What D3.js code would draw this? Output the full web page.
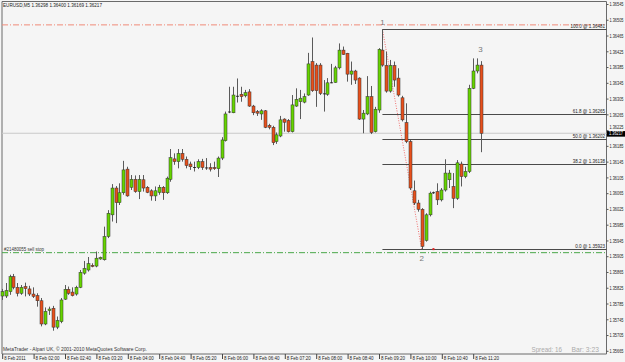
<!DOCTYPE html>
<html><head><meta charset="utf-8">
<script src="https://cdn.jsdelivr.net/npm/d3@7"></script>
<style>
html,body{margin:0;padding:0;background:#f5f5f5;}
svg{display:block;}
text{font-family:"Liberation Sans",Arial,sans-serif;}
</style></head><body>
<svg id="c" width="625" height="362"></svg>
<script>
// ---- data (EURUSD M5, 8 Feb 2011, 01:20 .. 11:30) ----
const opens=[1.35804,1.35804,1.35815,1.35853,1.35826,1.35811,1.35828,1.35822,1.35809,1.35805,
1.35792,1.35733,1.35767,1.35773,1.35725,1.35739,1.35796,1.35821,1.35814,1.35809,
1.35826,1.35862,1.35870,1.35882,1.35880,1.35898,1.35896,1.35955,1.36010,1.36078,
1.36041,1.36066,1.36126,1.36080,1.36100,1.36069,1.36099,1.36080,1.36071,1.36058,
1.36067,1.36080,1.36066,1.36100,1.36152,1.36145,1.36166,1.36151,1.36139,1.36131,
1.36130,1.36145,1.36130,1.36130,1.36130,1.36127,1.36154,1.36198,1.36270,1.36269,
1.36312,1.36316,1.36312,1.36322,1.36286,1.36272,1.36266,1.36274,1.36237,1.36232,
1.36196,1.36210,1.36253,1.36249,1.36221,1.36286,1.36297,1.36296,1.36314,1.36399,
1.36390,1.36390,1.36318,1.36316,1.36345,1.36346,1.36383,1.36428,1.36420,1.36367,
1.36375,1.36357,1.36253,1.36266,1.36310,1.36221,1.36276,1.36428,1.36389,1.36324,
1.36389,1.36357,1.36307,1.36244,1.36196,1.36071,1.36040,1.36024,1.35945,1.36010,
1.36065,1.36069,1.36048,1.36073,1.36099,1.36082,1.36052,1.36139,1.36107,1.36120,
1.36331,1.36375,1.36390];
const highs=[1.35822,1.35837,1.35858,1.35860,1.35837,1.35832,1.35838,1.35830,1.35826,1.35811,
1.35799,1.35775,1.35777,1.35779,1.35752,1.35799,1.35832,1.35828,1.35826,1.35830,
1.35870,1.35893,1.35903,1.35887,1.35917,1.35904,1.35980,1.36022,1.36088,1.36083,
1.36090,1.36147,1.36132,1.36111,1.36110,1.36111,1.36111,1.36083,1.36075,1.36082,
1.36086,1.36083,1.36107,1.36177,1.36166,1.36177,1.36177,1.36158,1.36145,1.36145,
1.36151,1.36152,1.36154,1.36141,1.36145,1.36158,1.36207,1.36272,1.36335,1.36335,
1.36356,1.36335,1.36327,1.36329,1.36289,1.36276,1.36278,1.36276,1.36241,1.36236,
1.36219,1.36261,1.36255,1.36253,1.36314,1.36331,1.36327,1.36318,1.36421,1.36460,
1.36395,1.36395,1.36352,1.36357,1.36393,1.36388,1.36445,1.36437,1.36421,1.36399,
1.36378,1.36359,1.36276,1.36362,1.36337,1.36284,1.36433,1.36481,1.36424,1.36403,
1.36399,1.36382,1.36312,1.36293,1.36200,1.36097,1.36048,1.36027,1.36014,1.36069,
1.36069,1.36090,1.36078,1.36151,1.36124,1.36116,1.36149,1.36145,1.36132,1.36340,
1.36407,1.36407,1.36400];
const lows=[1.35794,1.35799,1.35807,1.35821,1.35803,1.35807,1.35803,1.35804,1.35799,1.35777,
1.35727,1.35730,1.35756,1.35716,1.35720,1.35735,1.35794,1.35807,1.35803,1.35805,
1.35824,1.35858,1.35866,1.35877,1.35877,1.35896,1.35894,1.35951,1.35993,1.35989,
1.36035,1.36061,1.36056,1.36073,1.36066,1.36050,1.36069,1.36065,1.36046,1.36045,
1.36061,1.36048,1.36063,1.36094,1.36137,1.36128,1.36145,1.36128,1.36124,1.36120,
1.36126,1.36124,1.36124,1.36120,1.36124,1.36106,1.36149,1.36196,1.36268,1.36268,
1.36295,1.36297,1.36308,1.36284,1.36263,1.36261,1.36251,1.36230,1.36227,1.36187,
1.36190,1.36207,1.36221,1.36219,1.36219,1.36284,1.36253,1.36293,1.36312,1.36322,
1.36284,1.36314,1.36272,1.36312,1.36344,1.36345,1.36379,1.36416,1.36348,1.36340,
1.36342,1.36251,1.36217,1.36263,1.36215,1.36219,1.36269,1.36386,1.36320,1.36320,
1.36335,1.36310,1.36247,1.36192,1.36073,1.36035,1.36018,1.35923,1.35942,1.36006,
1.36063,1.36035,1.36044,1.36069,1.36078,1.36027,1.36048,1.36082,1.36103,1.36116,
1.36329,1.36369,1.36169];
const closes=[1.35815,1.35818,1.35853,1.35826,1.35811,1.35826,1.35823,1.35809,1.35803,1.35792,
1.35733,1.35765,1.35771,1.35725,1.35742,1.35794,1.35821,1.35811,1.35805,1.35826,
1.35864,1.35874,1.35886,1.35879,1.35900,1.35902,1.35955,1.36014,1.36078,1.36041,
1.36066,1.36124,1.36058,1.36100,1.36069,1.36100,1.36078,1.36067,1.36058,1.36071,
1.36080,1.36066,1.36103,1.36155,1.36145,1.36166,1.36151,1.36135,1.36132,1.36129,
1.36145,1.36130,1.36128,1.36126,1.36127,1.36154,1.36200,1.36266,1.36272,1.36314,
1.36311,1.36310,1.36320,1.36286,1.36269,1.36268,1.36274,1.36232,1.36232,1.36193,
1.36213,1.36251,1.36245,1.36221,1.36289,1.36303,1.36306,1.36310,1.36393,1.36325,
1.36325,1.36318,1.36316,1.36345,1.36346,1.36383,1.36428,1.36417,1.36367,1.36375,
1.36352,1.36253,1.36268,1.36310,1.36219,1.36278,1.36430,1.36390,1.36324,1.36389,
1.36352,1.36314,1.36251,1.36196,1.36078,1.36040,1.36024,1.35930,1.36010,1.36065,
1.36067,1.36048,1.36073,1.36116,1.36116,1.36052,1.36142,1.36107,1.36120,1.36331,
1.36375,1.36390,1.36217];

const timeLabels=["8 Feb 2011","8 Feb 02:00","8 Feb 02:40","8 Feb 03:20","8 Feb 04:00","8 Feb 04:40",
"8 Feb 05:20","8 Feb 06:00","8 Feb 06:40","8 Feb 07:20","8 Feb 08:00","8 Feb 08:40",
"8 Feb 09:20","8 Feb 10:00","8 Feb 10:40","8 Feb 11:20"];
const timeTickBars=[0,8,16,24,32,40,48,56,64,72,80,88,96,104,112,120];
const priceTicks=[1.36545,1.36505,1.36465,1.36425,1.36385,1.36345,1.36305,1.36265,1.36225,
1.36185,1.36145,1.36105,1.36065,1.36025,1.35985,1.35945,1.35905,1.35865,1.35825,
1.35785,1.35745,1.35705,1.35665];
const fibLevels=["100.0","61.8","50.0","38.2","0.0"];
const fibPrices=[1.36481,1.36265,1.36202,1.36138,1.35923];
const fibStartBar=97, fibEndBar=107;
const pointLabels=["1","2","3"];
const pointBars=[97,107,122];
const pointPrices=[1.36500,1.35900,1.36432];
const stopLossPrice=1.36492;
const sellStopPrice=1.35914, sellStopLabel="#21480055 sell stop";
const bidPrice=1.36217;
const title="EURUSD,M5  1.36298 1.36400 1.36169 1.36217";
const footer="MetaTrader - Alpari UK, \u00a9 2001-2010 MetaQuotes Software Corp.";
const spreadText="Spread: 16", barText="Bar: 3:23";

// ---- helpers ----
// squeeze text horizontally to a target width, keeping its anchor point
function squeeze(sel, w){
  sel.each(function(d,i){
    const t=d3.select(this);
    const nx=+t.attr("x")||0, ny=+t.attr("y")||0;
    const n=this.getComputedTextLength();
    const target=typeof w==="function"?w(d,i):w;
    const f=Math.min(1,target/n);
    t.attr("x",0).attr("y",0).attr("transform",`translate(${nx},${ny}) scale(${f},1)`);
  });
}

// ---- layout ----
const L=2, R=606.5, T=1.5, B=354;
const svg=d3.select("#c");
const x=d3.scaleLinear().domain([0,122]).range([1.7,480.55]);
const y=d3.scaleLinear().domain([1.35665,1.36545]).range([350.8,4]);

svg.append("rect").attr("width",625).attr("height",362).attr("fill","#f5f5f5");

// frame
svg.append("path").attr("d",`M${L},${B}V${T}H${R}V${B}H${L}`).attr("fill","none")
  .attr("stroke","#6a6a6a").attr("stroke-width",1);

// bid line
svg.append("line").attr("x1",L).attr("x2",R).attr("y1",y(bidPrice)).attr("y2",y(bidPrice))
  .attr("stroke","#c9c9c9").attr("stroke-width",1);

// stop loss (red dash-dot) and sell stop (green dash-dot)
svg.append("line").attr("x1",L).attr("x2",R).attr("y1",y(stopLossPrice)).attr("y2",y(stopLossPrice))
  .attr("stroke","#f08a78").attr("stroke-width",1).attr("stroke-dasharray","6,2,1,2");
svg.append("line").attr("x1",L).attr("x2",R).attr("y1",y(sellStopPrice)).attr("y2",y(sellStopPrice))
  .attr("stroke","#4aa84a").attr("stroke-width",1).attr("stroke-dasharray","6,2,1,2");
svg.append("text").attr("x",4).attr("y",y(sellStopPrice)-1.8).attr("font-size",5.6)
  .attr("fill","#333").text(sellStopLabel).call(squeeze,40);

// fibonacci
const fx0=x(fibStartBar);
svg.append("line").attr("x1",fx0).attr("y1",y(fibPrices[0])).attr("x2",x(fibEndBar)).attr("y2",y(fibPrices[4]))
  .attr("stroke","#f07070").attr("stroke-width",1).attr("stroke-dasharray","1,1.5");
fibPrices.forEach((p,i)=>{
  const yy=Math.round(y(p))+0.5;
  svg.append("line").attr("x1",fx0).attr("x2",R).attr("y1",yy).attr("y2",yy)
    .attr("stroke","#4a4a4a").attr("stroke-width",1);
  const t=`${fibLevels[i]} @ ${d3.format(".5f")(p)}`;
  svg.append("text").attr("x",605).attr("y",yy-1.5).attr("text-anchor","end").attr("font-size",5.4)
    .attr("fill","#222").text(t).call(squeeze,t.length*2.3);
});

// candles
const idx=d3.range(opens.length);
const cx=i=>Math.round(x(i))+0.5;
svg.append("g").selectAll("line").data(idx).join("line")
  .attr("x1",cx).attr("x2",cx).attr("y1",i=>y(highs[i])).attr("y2",i=>y(lows[i]))
  .attr("stroke","#5a5a5a").attr("stroke-width",1);
svg.append("g").selectAll("rect").data(idx).join("rect")
  .attr("x",i=>cx(i)-1.5).attr("width",3)
  .attr("y",i=>y(Math.max(opens[i],closes[i])))
  .attr("height",i=>Math.max(0.8,Math.abs(y(opens[i])-y(closes[i]))))
  .attr("fill",i=>Math.abs(opens[i]-closes[i])<0.000025?"#111":(closes[i]>opens[i]?"#66d400":"#e8501c"))
  .attr("stroke",i=>Math.abs(opens[i]-closes[i])<0.000025?"none":"#333")
  .attr("stroke-width",0.5);

// trade marker
svg.append("rect").attr("x",x(110)-1).attr("y",y(fibPrices[4])-1).attr("width",2).attr("height",2).attr("fill","#e02020");

// swing labels
pointLabels.forEach((t,i)=>{
  svg.append("text").attr("x",x(pointBars[i])).attr("y",y(pointPrices[i])+3).attr("text-anchor","middle")
    .attr("font-size",8).attr("fill","#777").text(t);
});

// right price axis
const ax=svg.append("g").attr("transform",`translate(${R},0)`)
  .call(d3.axisRight(y).tickValues(priceTicks).tickFormat(d3.format(".5f")).tickSize(2).tickPadding(1));
ax.select(".domain").remove();
ax.selectAll("line").attr("stroke","#555");
ax.selectAll("text").attr("font-size",5.4).attr("fill","#222").attr("font-family","Liberation Sans, Arial, sans-serif")
  .attr("dy",d=>Math.abs(d-1.36225)<1e-7?"-0.25em":"0.32em").call(squeeze,14);

// bid price box
const by=y(bidPrice);
svg.append("rect").attr("x",607).attr("y",by-2.2).attr("width",18).attr("height",5.6).attr("fill","#000");
svg.append("text").attr("x",609).attr("y",by+2.2).attr("font-size",5.2).attr("fill","#fff")
  .text(d3.format(".5f")(bidPrice)).call(squeeze,14);

// bottom time axis
const tx=svg.append("g").attr("transform",`translate(0,${B})`)
  .call(d3.axisBottom(x).tickValues(timeTickBars).tickFormat((d,i)=>timeLabels[i]).tickSize(5).tickPadding(0));
tx.select(".domain").remove();
tx.selectAll("line").attr("stroke","#444").attr("transform","translate(0.5,0)");
tx.selectAll("text").attr("text-anchor","start").attr("x",2).attr("y",6).attr("dy",0)
  .attr("font-size",5.6).attr("fill","#222").attr("font-family","Liberation Sans, Arial, sans-serif")
  .call(squeeze,(d,i)=>i===0?21.5:24);

// texts
svg.append("text").attr("x",3).attr("y",7).attr("font-size",5.6).attr("fill","#222")
  .text(title).call(squeeze,99);
svg.append("text").attr("x",3).attr("y",351).attr("font-size",5.6).attr("fill","#333")
  .text(footer).call(squeeze,144);
svg.append("text").attr("x",531.5).attr("y",351.5).attr("font-size",7).attr("fill","#aaa")
  .text(spreadText).call(squeeze,30.5);
svg.append("text").attr("x",571.5).attr("y",351.5).attr("font-size",7).attr("fill","#aaa")
  .text(barText).call(squeeze,27.5);
</script>
</body></html>
